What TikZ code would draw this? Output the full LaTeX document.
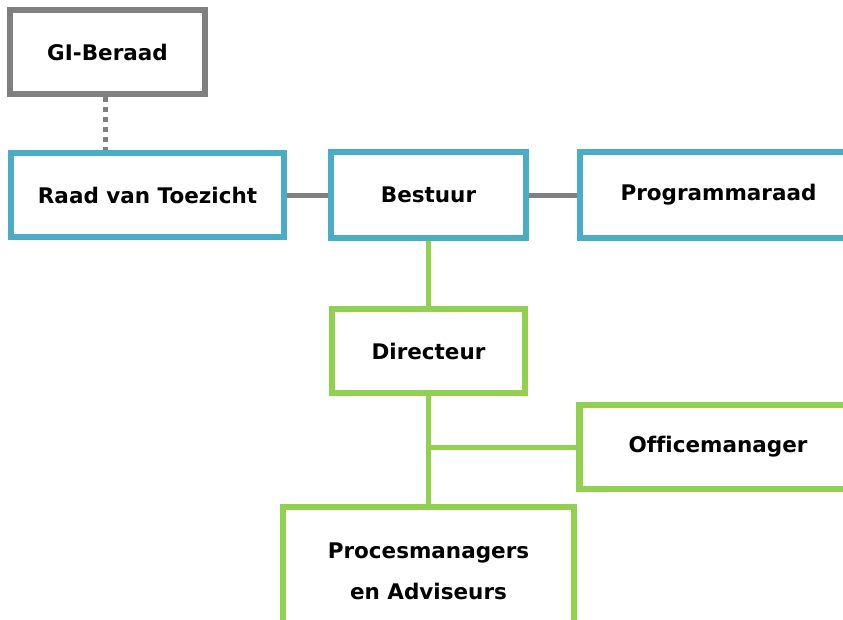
\documentclass[tikz,border=0pt]{standalone}
\usepackage{fontspec}
\setmainfont{DejaVu Sans}[Ligatures={NoCommon}]
\definecolor{boxblue}{HTML}{4BACC6}
\definecolor{boxgreen}{HTML}{92D050}
\definecolor{linegray}{HTML}{808080}
\begin{document}
\begin{tikzpicture}[x=1pt,y=-1pt,
  box/.style={draw,fill=white,line width=6.5pt,minimum height=84pt,inner sep=0pt,align=center,
    font=\fontsize{21.5}{41}\selectfont\bfseries},
  graybox/.style={box,draw=linegray},
  bluebox/.style={box,draw=boxblue},
  greenbox/.style={box,draw=boxgreen},
  grayline/.style={draw=linegray,line width=5pt},
  dotline/.style={draw=linegray,line width=5pt,dash pattern=on 5pt off 5pt},
  greenline/.style={draw=boxgreen,line width=5pt}]
\useasboundingbox (0,0) rectangle (843,619);
\fill[white] (0,0) rectangle (843,619);
\node[graybox,minimum width=195pt] (gi) at (107.5,52) {GI-Beraad};
\node[bluebox,minimum width=273pt] (raad) at (147.5,195) {Raad van Toezicht};
\node[bluebox,minimum width=195pt,minimum height=86pt] (bestuur) at (428.5,195) {Bestuur};
\node[bluebox,minimum width=277pt,minimum height=86pt] (prog) at (718.5,195) {Programmaraad};
\node[greenbox,minimum width=193pt] (dir) at (428.5,351) {Directeur};
\node[greenbox,minimum width=277pt] (office) at (718,447) {Officemanager};
\node[greenbox,minimum width=291pt,minimum height=128pt] (proc) at (428.5,571) {Procesmanagers\\en Adviseurs};
\path[grayline] (raad.east) -- (bestuur.west);
\path[grayline] (bestuur.east) -- (prog.west);
\path[dotline] ([xshift=-2pt]gi.south) -- ([xshift=-2pt]gi.south |- raad.north);
\path[greenline] (bestuur.south) -- (dir.north);
\path[greenline] (dir.south) -- (proc.north);
\coordinate (branch) at (dir.south |- office.west);
\path[greenline] (branch) -- (office.west);
\end{tikzpicture}
\end{document}
